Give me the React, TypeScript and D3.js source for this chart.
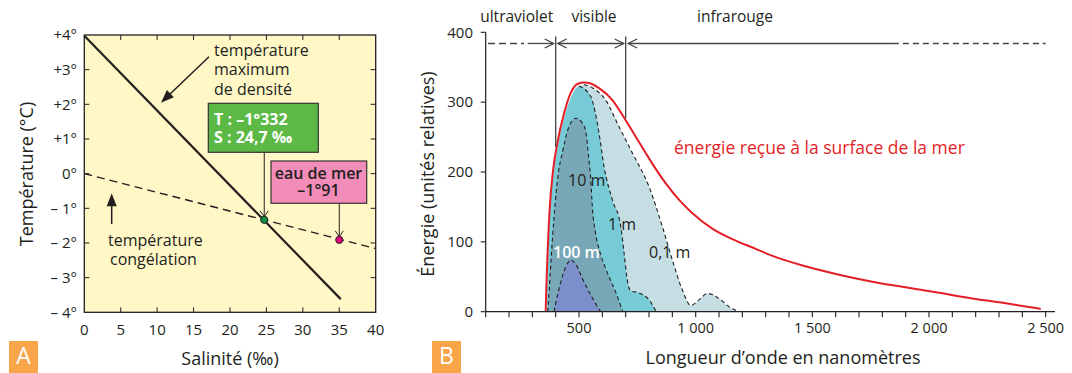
import React from 'react';
import * as d3 from 'd3';

// ---- panel A : salinity / temperature ----
const salTicks = [0, 5, 10, 15, 20, 25, 30, 35, 40];
const tempTicks = [4, 3, 2, 1, 0, -1, -2, -3, -4];
const tempTickLabels = ['+4°', '+3°', '+2°', '+1°', '0°', '– 1°', '– 2°', '– 3°', '– 4°'];
const maxDensitySal = [0, 35.2];
const maxDensityTemp = [3.98, -3.62];
const freezeSal = [0, 40];
const freezeTemp = [0, -2.16];
const crossPoint = [24.7, -1.332];
const seaPoint = [35, -1.91];

// ---- panel B : light energy vs wavelength ----
const yTicksB = [0, 100, 200, 300, 400];
const xLabelTicksB = [500, 1000, 1500, 2000, 2500];
const xMinorTicksB = d3.range(100, 2501, 100);

const surfaceNm = [357, 360, 364, 374, 389, 407, 436, 464, 493, 521, 555, 586, 643, 700, 757, 814, 871, 929, 986, 1071, 1157, 1257, 1329, 1471, 1614, 1757, 1900, 2043, 2186, 2329, 2479];
const surfaceE = [0, 35, 74, 146, 203, 241, 284, 313, 326, 328, 326, 320, 303, 274, 243, 212, 184, 160, 141, 119, 104, 90, 80, 65, 53, 43, 35, 27, 19, 12, 4];

const m01Nm = [362, 366, 376, 391, 409, 438, 466, 495, 521, 560, 614, 671, 729, 800, 857, 900, 943, 979, 1014, 1051, 1100, 1143, 1186];
const m01E = [0, 60, 140, 198, 236, 279, 307, 321, 325, 320, 303, 265, 227, 179, 122, 74, 31, 9, 17, 26, 19, 7, 0];

const m1Nm = [362, 366, 376, 391, 409, 438, 466, 500, 550, 586, 607, 643, 679, 693, 707, 721, 757, 800, 831];
const m1E = [0, 60, 140, 198, 236, 279, 307, 323, 308, 255, 208, 160, 122, 84, 45, 30, 27, 17, 0];

const m10Nm = [366, 372, 380, 393, 410, 430, 457, 486, 510, 529, 540, 550, 557, 571, 590, 614, 657, 688];
const m10E = [0, 30, 74, 136, 195, 230, 265, 277, 272, 258, 225, 190, 150, 112, 85, 62, 28, 0];

const m100Nm = [393, 400, 414, 430, 443, 464, 486, 514, 550, 593];
const m100E = [0, 12, 32, 52, 64, 74, 68, 48, 24, 0];

const FONT = '"Open Sans", sans-serif';
const INK = '#231f20';

const xA = d3.scaleLinear([0, 40], [84.3, 375.7]);
const yA = d3.scaleLinear([-4, 4], [312.3, 35]);
const xB = d3.scaleLinear([100, 2540], [485.7, 1055]);
const yB = d3.scaleLinear([0, 400], [311.7, 32.3]);

const fmtB = d3.formatLocale({ decimal: ',', thousands: ' ', grouping: [3], currency: ['', ''] }).format(',');

const zip = (a: number[], b: number[]) => a.map((v, i) => [v, b[i]] as [number, number]);

const lineB = d3.line<[number, number]>().x(d => xB(d[0])).y(d => yB(d[1])).curve(d3.curveMonotoneX);
const areaB = d3.area<[number, number]>().x(d => xB(d[0])).y0(yB(0)).y1(d => yB(d[1])).curve(d3.curveMonotoneX);

function filledHead(x1: number, y1: number, x2: number, y2: number, len = 13, half = 5) {
  const a = Math.atan2(y2 - y1, x2 - x1);
  const bx = x2 - len * Math.cos(a), by = y2 - len * Math.sin(a);
  const px = -Math.sin(a) * half, py = Math.cos(a) * half;
  return `M${x2},${y2}L${bx + px},${by + py}L${bx - px},${by - py}Z`;
}

function openHead(x: number, y: number, dir: number, len = 6, half = 4) {
  // dir = pointing direction in radians
  const bx = x - len * Math.cos(dir), by = y - len * Math.sin(dir);
  const px = -Math.sin(dir) * half, py = Math.cos(dir) * half;
  return `M${bx + px},${by + py}L${x},${y}L${bx - px},${by - py}`;
}

const layers = [
  { nm: m01Nm, e: m01E, fill: '#c4dee4', dashFrom: 521 },
  { nm: m1Nm, e: m1E, fill: '#76cbd6', dashFrom: 490 },
  { nm: m10Nm, e: m10E, fill: '#78a8b7', dashFrom: 0 },
  { nm: m100Nm, e: m100E, fill: '#7b8fca', dashFrom: 0 },
];

export default function App() {
  const [gx, gy] = [xA(crossPoint[0]), yA(crossPoint[1])];
  const [sx, sy] = [xA(seaPoint[0]), yA(seaPoint[1])];
  const arrowY = yB(384);
  const uv = xB(400), ir = xB(700);

  return (
    <svg width={1072} height={373} style={{ position: 'absolute', left: 0, top: 0, background: '#fff' }}
      fontFamily={FONT} fill={INK}>
      {/* ===== Panel A ===== */}
      <rect x={xA(0)} y={yA(4)} width={xA(40) - xA(0)} height={yA(-4) - yA(4)} fill="#fff7c6" stroke={INK} strokeWidth={1.3} />
      {salTicks.slice(1, -1).map(s => (
        <g key={'sx' + s} stroke={INK} strokeWidth={1}>
          <line x1={xA(s)} x2={xA(s)} y1={yA(4)} y2={yA(4) + 5} />
          <line x1={xA(s)} x2={xA(s)} y1={yA(-4)} y2={yA(-4) - 5} />
        </g>
      ))}
      {tempTicks.slice(1, -1).map(t => (
        <g key={'ty' + t} stroke={INK} strokeWidth={1}>
          <line x1={xA(0)} x2={xA(0) + 5} y1={yA(t)} y2={yA(t)} />
          <line x1={xA(40)} x2={xA(40) - 5} y1={yA(t)} y2={yA(t)} />
        </g>
      ))}
      {salTicks.map(s => (
        <text key={'sl' + s} x={xA(s)} y={yA(-4) + 17} dy="0.35em" textAnchor="middle" fontSize={15}>{s}</text>
      ))}
      {tempTicks.map((t, i) => (
        <text key={'tl' + t} x={77} y={yA(t)} dy="0.35em" textAnchor="end" fontSize={15}>{tempTickLabels[i]}</text>
      ))}
      <text x={230} y={359} dy="0.35em" textAnchor="middle" fontSize={18}>Salinité (‰)</text>
      <text transform="translate(27,174) rotate(-90)" dy="0.35em" textAnchor="middle" fontSize={18}>Température (°C)</text>

      <path d={d3.line()(zip(freezeSal, freezeTemp).map(d => [xA(d[0]), yA(d[1])]))!}
        fill="none" stroke={INK} strokeWidth={1.4} strokeDasharray="8,5" />
      <path d={d3.line()(zip(maxDensitySal, maxDensityTemp).map(d => [xA(d[0]), yA(d[1])]))!}
        fill="none" stroke={INK} strokeWidth={2.2} />

      {/* annotation arrows */}
      <line x1={209} y1={56.7} x2={168} y2={96} stroke={INK} strokeWidth={1.5} />
      <path d={filledHead(209, 56.7, 161, 102.7)} fill={INK} />
      <line x1={111.7} y1={224} x2={111.7} y2={200} stroke={INK} strokeWidth={1.5} />
      <path d={filledHead(111.7, 224, 111.7, 193.3)} fill={INK} />

      <g fontSize={16}>
        <text x={214} y={50} dy="0.35em">température</text>
        <text x={214} y={69.5} dy="0.35em">maximum</text>
        <text x={214} y={89} dy="0.35em">de densité</text>
        <text x={108} y={240.7} dy="0.35em">température</text>
        <text x={110} y={259.5} dy="0.35em">congélation</text>
      </g>

      {/* callout boxes */}
      <line x1={gx} x2={gx} y1={152.3} y2={gy - 3} stroke={INK} strokeWidth={1} />
      <path d={openHead(gx, gy - 3, Math.PI / 2)} fill="none" stroke={INK} strokeWidth={1} />
      <line x1={sx} x2={sx} y1={203.3} y2={sy - 3} stroke={INK} strokeWidth={1} />
      <path d={openHead(sx, sy - 3, Math.PI / 2)} fill="none" stroke={INK} strokeWidth={1} />
      <rect x={208.3} y={103.3} width={110} height={49} fill="#5cb946" stroke="#333" strokeWidth={1.2} />
      <g fill="#fff" fontWeight={700} fontSize={16}>
        <text x={214} y={119.5} dy="0.35em">T : –1°332</text>
        <text x={214} y={137} dy="0.35em">S : 24,7 ‰</text>
      </g>
      <rect x={271} y={161} width={95.7} height={42.3} fill="#f28cb9" stroke="#333" strokeWidth={1.2} />
      <g fontWeight={600} fontSize={16} textAnchor="middle">
        <text x={318.5} y={173.5} dy="0.35em">eau de mer</text>
        <text x={318.5} y={190} dy="0.35em">–1°91</text>
      </g>
      <circle cx={gx} cy={gy} r={3.6} fill="#0b8f43" stroke={INK} strokeWidth={1} />
      <circle cx={sx} cy={sy} r={3.6} fill="#e5007d" stroke={INK} strokeWidth={1} />

      <rect x={9} y={341} width={29} height={32} fill="#f7a548" />
      <text x={23.5} y={356} dy="0.35em" textAnchor="middle" fontSize={23} fill="#fff">A</text>

      {/* ===== Panel B ===== */}
      {layers.map((l, i) => {
        const pts = zip(l.nm, l.e);
        return (
          <g key={'layer' + i}>
            <path d={areaB(pts)!} fill={l.fill} />
            <path d={lineB(pts.filter(p => p[0] >= l.dashFrom))!} fill="none" stroke={INK} strokeWidth={1.1} strokeDasharray="4,3" />
          </g>
        );
      })}
      <path d={lineB(zip(surfaceNm, surfaceE))!} fill="none" stroke="#e41e26" strokeWidth={2} />

      <line x1={xB(100)} x2={xB(100)} y1={yB(400)} y2={yB(0)} stroke={INK} strokeWidth={1.2} />
      <line x1={xB(100)} x2={xB(2540)} y1={yB(0)} y2={yB(0)} stroke={INK} strokeWidth={1.2} />
      {yTicksB.map(v => (
        <g key={'yb' + v}>
          <line x1={xB(100) - 5} x2={xB(100)} y1={yB(v)} y2={yB(v)} stroke={INK} strokeWidth={1.1} />
          <text x={473} y={yB(v)} dy="0.35em" textAnchor="end" fontSize={15}>{v}</text>
        </g>
      ))}
      {xMinorTicksB.map(v => (
        <line key={'xt' + v} x1={xB(v)} x2={xB(v)} y1={yB(0)} y2={yB(0) + 5.5} stroke={INK} strokeWidth={1.1} />
      ))}
      {xLabelTicksB.map(v => (
        <text key={'xl' + v} x={xB(v)} y={328} dy="0.35em" textAnchor="middle" fontSize={14.5}>{fmtB(v)}</text>
      ))}
      <text x={783} y={358} dy="0.35em" textAnchor="middle" fontSize={18}>Longueur d’onde en nanomètres</text>
      <text transform="translate(428,174) rotate(-90)" dy="0.35em" textAnchor="middle" fontSize={18}>Énergie (unités relatives)</text>

      {/* spectrum bands */}
      <g stroke="#444" strokeWidth={1.3} fill="none">
        <line x1={uv} x2={uv} y1={yB(394)} y2={yB(236)} />
        <line x1={ir} x2={ir} y1={yB(394)} y2={yB(277)} />
        <line x1={xB(110)} x2={xB(280)} y1={arrowY} y2={arrowY} strokeDasharray="7,4,7,4,7,4,3,4" />
        <line x1={xB(280)} x2={uv - 2} y1={arrowY} y2={arrowY} />
        <path d={openHead(uv - 2, arrowY, 0, 9, 4.5)} />
        <line x1={uv + 2} x2={ir - 2} y1={arrowY} y2={arrowY} />
        <path d={openHead(uv + 2, arrowY, Math.PI, 9, 4.5)} />
        <path d={openHead(ir - 2, arrowY, 0, 9, 4.5)} />
        <line x1={ir + 2.5} x2={xB(1845)} y1={arrowY} y2={arrowY} />
        <path d={openHead(ir + 2.5, arrowY, Math.PI, 9, 4.5)} />
        <line x1={xB(1845)} x2={xB(2500)} y1={arrowY} y2={arrowY} strokeDasharray="6,4" />
      </g>
      <g fontSize={15.5} textAnchor="middle">
        <text x={516.7} y={17} dy="0.35em">ultraviolet</text>
        <text x={594} y={17} dy="0.35em">visible</text>
        <text x={735} y={17} dy="0.35em">infrarouge</text>
      </g>

      <text x={674} y={148} dy="0.35em" fontSize={17.5} fill="#e41e26">énergie reçue à la surface de la mer</text>
      <g fontSize={16}>
        <text x={568} y={180} dy="0.35em">10 m</text>
        <text x={608} y={224} dy="0.35em">1 m</text>
        <text x={649} y={252} dy="0.35em">0,1 m</text>
        <text x={553} y={252} dy="0.35em" fill="#fff" fontWeight={600}>100 m</text>
      </g>

      <rect x={432} y={341} width={29} height={32} fill="#f7a548" />
      <text x={446.5} y={356} dy="0.35em" textAnchor="middle" fontSize={23} fill="#fff">B</text>
    </svg>
  );
}
